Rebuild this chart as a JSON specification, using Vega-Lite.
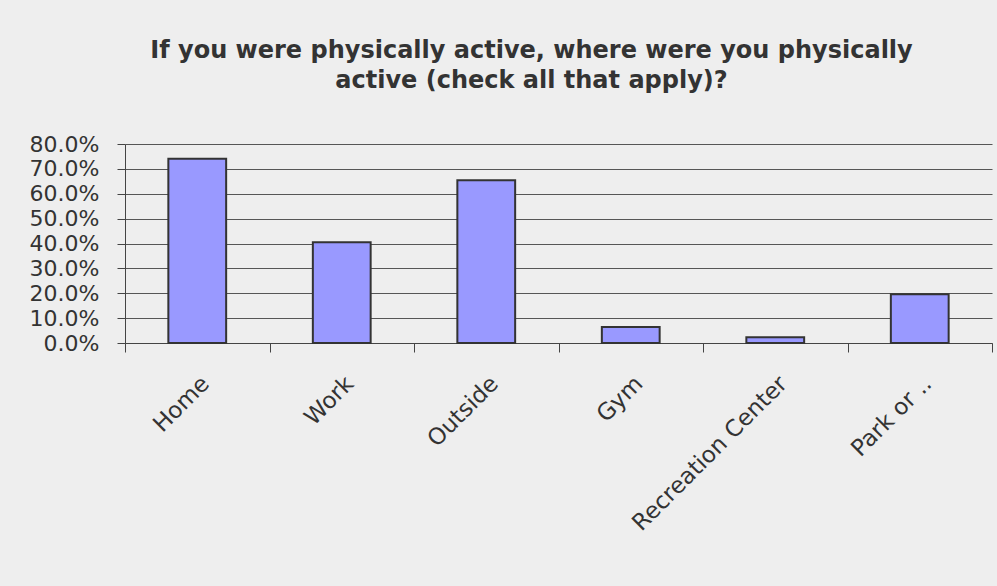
{
  "$schema": "https://vega.github.io/schema/vega-lite/v6.json",
  "autosize": {"type": "none"},
  "width": 867,
  "height": 199,
  "padding": {"left": 125, "top": 144, "right": 5, "bottom": 243},
  "background": "#eeeeee",
  "data": {
    "values": [
      {"category": "Home", "pct": 0.741},
      {"category": "Work", "pct": 0.405},
      {"category": "Outside", "pct": 0.654},
      {"category": "Gym", "pct": 0.064},
      {"category": "Recreation Center", "pct": 0.023},
      {"category": "Park or ..", "pct": 0.196}
    ]
  },
  "title": {
    "text": ["If you were physically active, where were you physically", "active (check all that apply)?"],
    "font": "DejaVu Sans",
    "fontSize": 24,
    "fontWeight": "bold",
    "color": "#333333",
    "anchor": "middle",
    "dx": -27,
    "lineHeight": 30,
    "offset": 40
  },
  "mark": {"type": "bar", "width": {"band": 0.4}, "fill": "#9999ff", "stroke": "#333333", "strokeWidth": 2},
  "encoding": {
    "x": {
      "field": "category",
      "type": "nominal",
      "sort": null,
      "scale": {"paddingInner": 0, "paddingOuter": 0},
      "axis": {
        "title": null,
        "tickBand": "extent",
        "tickSize": 9,
        "tickColor": "#444444",
        "domainColor": "#444444",
        "labelAngle": -45,
        "labelAlign": "right",
        "labelBaseline": "top",
        "labelPadding": 20,
        "labelFont": "DejaVu Sans",
        "labelFontSize": 23,
        "labelColor": "#333333",
        "labelLimit": 400,
        "grid": false
      }
    },
    "y": {
      "field": "pct",
      "type": "quantitative",
      "scale": {"domain": [0, 0.8], "nice": false},
      "axis": {
        "title": null,
        "values": [0, 0.1, 0.2, 0.3, 0.4, 0.5, 0.6, 0.7, 0.8],
        "format": ".1%",
        "tickSize": 8,
        "tickColor": "#444444",
        "domainColor": "#444444",
        "gridColor": "#555555",
        "gridWidth": 1,
        "labelPadding": 18,
        "labelFont": "DejaVu Sans",
        "labelFontSize": 22,
        "labelColor": "#333333"
      }
    }
  },
  "config": {"view": {"stroke": null}}
}
